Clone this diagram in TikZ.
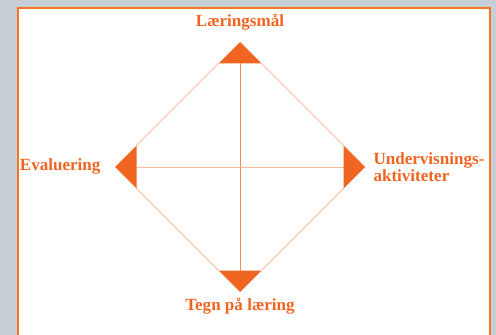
\documentclass[tikz,border=0pt]{standalone}
\usepackage{fontspec}
\setmainfont{Liberation Serif}
\definecolor{bgGray}{RGB}{197,207,213}
\definecolor{frameOrange}{RGB}{244,118,32}
\definecolor{mainOrange}{RGB}{241,101,34}
\definecolor{paleOrange}{RGB}{248,184,155}
\tikzset{every picture/.style={line width=0.75pt}}
\tikzset{
  label/.style={inner sep=0.75pt, text=mainOrange, font=\bfseries\fontsize{12.8}{12.6}\selectfont},
  corner/.style={fill=mainOrange, draw=none},
  edge/.style={draw=paleOrange, line width=0.6pt},
  axis/.style={draw=mainOrange!75, line width=0.6pt}
}

\begin{document}
\begin{tikzpicture}[x=0.75pt,y=0.75pt,yscale=-1,xscale=1]
%Background
\fill [bgGray] (0,0) rectangle (496,335) ;
\useasboundingbox (0,0) rectangle (496,335) ;
%Frame
\fill [white] (17.5,8.5) rectangle (490,340) ;
\draw [draw=frameOrange, line width=1.5pt] (17.5,340) -- (17.5,8.5) -- (490,8.5) -- (490,340) ;

%Corners of the diamond
\coordinate (topApex) at (240,42) ;
\coordinate (topL) at (218.5,63.5) ;
\coordinate (topR) at (261.5,63.5) ;
\coordinate (topM) at (240,63.5) ;
\coordinate (botApex) at (240,292) ;
\coordinate (botL) at (218.5,270.5) ;
\coordinate (botR) at (261.5,270.5) ;
\coordinate (botM) at (240,270.5) ;
\coordinate (leftApex) at (115,167) ;
\coordinate (leftT) at (136.5,145.5) ;
\coordinate (leftB) at (136.5,188.5) ;
\coordinate (leftM) at (136.5,167) ;
\coordinate (rightApex) at (365,167) ;
\coordinate (rightT) at (343.5,145.5) ;
\coordinate (rightB) at (343.5,188.5) ;
\coordinate (rightM) at (343.5,167) ;

%Straight Lines
\draw [edge] (topL) -- (leftT) ;
\draw [edge] (topR) -- (rightT) ;
\draw [edge] (botL) -- (leftB) ;
\draw [edge] (botR) -- (rightB) ;
\draw [axis] (topM) -- (botM) ;
\draw [edge] (leftM) -- (rightM) ;

%Triangles
\fill [corner] (topApex) -- (topR) -- (topL) -- cycle ;
\fill [corner] (botApex) -- (botR) -- (botL) -- cycle ;
\fill [corner] (leftApex) -- (leftT) -- (leftB) -- cycle ;
\fill [corner] (rightApex) -- (rightT) -- (rightB) -- cycle ;

% Text Node
\node [label] (goal) at (240,22) {Læringsmål};
% Text Node
\node [label] (signs) at (240,306) {Tegn på læring};
% Text Node
\node [label, anchor=east] (eval) at (102,166) {Evaluering};
% Text Node
\node [label, anchor=west, align=left] (teach) at (372,167) {Undervisnings-\\aktiviteter};

\end{tikzpicture}
\end{document}
